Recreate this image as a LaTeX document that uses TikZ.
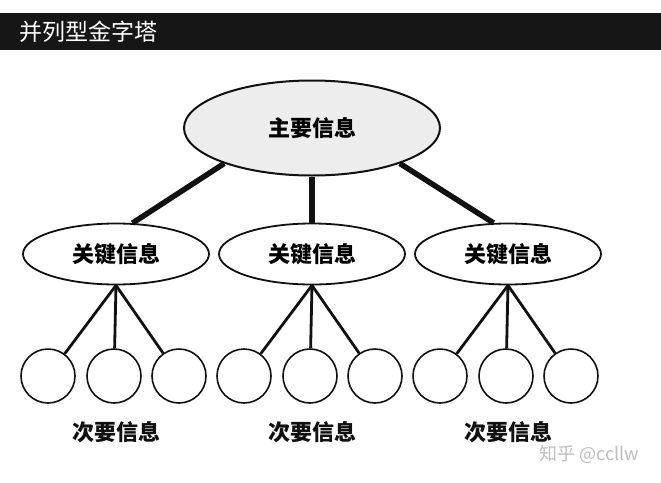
\documentclass[tikz,border=0pt]{standalone}
\usepackage{fontspec}
\usepackage{xcolor}
\usepackage{tikz}
\usetikzlibrary{shapes.geometric}
\newfontfamily\cjk{Noto Sans CJK SC}
\definecolor{inkx}{HTML}{111111}
\definecolor{barx}{HTML}{161616}
\definecolor{mainbg}{HTML}{EDEDED}
\definecolor{markx}{HTML}{BDBDBD}
\tikzset{
  topbox/.style={ellipse,draw=inkx,line width=2pt,fill=mainbg,minimum width=256pt,minimum height=95pt,inner sep=0pt,font=\cjk\bfseries\fontsize{22}{22}\selectfont},
  keybox/.style={ellipse,draw=inkx,line width=1.8pt,fill=white,minimum width=186pt,minimum height=61pt,inner sep=0pt,font=\cjk\bfseries\fontsize{22}{22}\selectfont},
  leaf/.style={circle,draw=inkx,line width=1.6pt,fill=white,minimum size=54pt,inner sep=0pt},
  lbl/.style={font=\cjk\bfseries\fontsize{22}{22}\selectfont,inkx},
  bigln/.style={line width=5.5pt,inkx},
  ln/.style={line width=2.8pt,inkx}
}
\begin{document}
\begin{tikzpicture}[x=1pt,y=-1pt]
\useasboundingbox (0,0) rectangle (661,482);
% title bar
\fill[barx] (0,13) rectangle (661,50);
\node[anchor=west,white,font=\cjk\fontsize{23}{23}\selectfont,inner sep=0pt] (title) at (19,32) {并列型金字塔};
% main and key messages
\node[topbox] (main) at (312,128) {主要信息};
\node[keybox] (key1) at (116,254) {关键信息};
\node[keybox] (key2) at (312,254) {关键信息};
\node[keybox] (key3) at (508,254) {关键信息};
\draw[bigln] (main.south) -- (key2.north);
\draw[bigln] (main.202) -- (key1.62);
\draw[bigln] (main.-22) -- (key3.115);
% minor messages
\foreach \k/\x in {1/116,2/312,3/508}{
  \node[leaf] (sub\k a) at (\x-68,376) {};
  \node[leaf] (sub\k b) at (\x-2,376) {};
  \node[leaf] (sub\k c) at (\x+63,376) {};
  \draw[ln] (key\k.south) -- (sub\k a);
  \draw[ln] (key\k.south) -- (sub\k b);
  \draw[ln] (key\k.south) -- (sub\k c);
  \node[lbl] (minor\k) at (\x,432) {次要信息};
}
\node[markx,font=\cjk\fontsize{18}{18}\selectfont] (mark) at (589,454) {知乎 @ccllw};
\end{tikzpicture}
\end{document}
